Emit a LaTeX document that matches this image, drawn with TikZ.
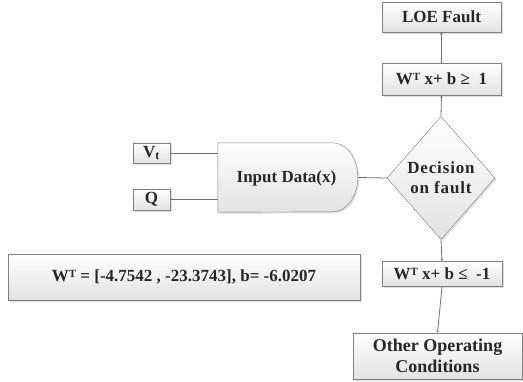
\documentclass[tikz,border=0pt]{standalone}
\usepackage{fontspec}
\setmainfont{Liberation Serif}
\usepackage{tikz}
\usetikzlibrary{positioning, calc, shapes.geometric, shadows, arrows.meta}
\definecolor{EdgeGray}{HTML}{808080}
\definecolor{LineGray}{HTML}{707070}
\definecolor{FillLow}{HTML}{E2E2E2}
\definecolor{TextDark}{HTML}{262626}
\newcommand{\supT}{\raisebox{0.55ex}{\fontsize{11}{11}\selectfont T}}

\tikzset{
  box/.style={draw=EdgeGray, top color=white, bottom color=FillLow, inner sep=0pt,
    text=TextDark, font=\bfseries\fontsize{17}{19}\selectfont, align=center,
    drop shadow={shadow xshift=1.5pt, shadow yshift=-1.5pt, opacity=0.25}},
  link/.style={draw=LineGray, line width=0.8pt},
  tip/.style={-{Stealth[length=2.5pt, width=2.5pt]}}
}

\begin{document}
\begin{tikzpicture}[x=1pt, y=-1pt]
          \useasboundingbox (0,0) rectangle (523,381);

          % Right column
          \node[box, minimum width=119pt, minimum height=30pt] (loe) at (441.5,17) {LOE Fault};
          \node[box, minimum width=119pt, minimum height=32pt] (wup) at (441.5,79) {W\supT\ x+ b ≥~ 1};
          \node[box, diamond, minimum width=108pt, minimum height=123pt,
            font=\bfseries\fontsize{17}{20}\selectfont\addfontfeatures{LetterSpace=5}] (dec) at (441,178) {Decision\\on fault};
          \node[box, minimum width=120pt, minimum height=25pt] (wlo) at (442,274) {W\supT\ x+ b ≤~ -1};
          \node[box, minimum width=169pt, minimum height=46pt, font=\bfseries\fontsize{18}{21}\selectfont] (other) at (437.5,356) {Other Operating\\Conditions};

          % Inputs
          \node[box, minimum width=37pt, minimum height=20pt] (vt) at (151.5,153) {V\textsubscript{t}};
          \node[box, minimum width=37pt, minimum height=21pt] (q) at (151.5,199.5) {Q};
          \node[minimum width=140pt, minimum height=69pt, inner sep=0pt] (input) at (288,177.5) {};
          \path[draw=EdgeGray, top color=white, bottom color=FillLow,
            drop shadow={shadow xshift=1.5pt, shadow yshift=-1.5pt, opacity=0.25}]
            (input.north west) -- ++(115,0) arc[start angle=90, end angle=-90, x radius=25pt, y radius=34.5pt]
            -- (input.south west) -- cycle;
          \node[text=TextDark, font=\bfseries\fontsize{17}{19}\selectfont] at (286.5,178) {Input Data(x)};

          % Weights
          \node[box, minimum width=352pt, minimum height=46pt] (wts) at (184,277) {W\supT\ = [-4.7542 , -23.3743], b= -6.0207};

          % Connectors
          \draw[link] (vt.east) -- (vt.east -| input.west);
          \draw[link] (q.east) -- (q.east -| input.west);
          \draw[link] (input.east) -- (dec.west);
          \draw[link, tip] (dec.north) -- (wup.south);
          \draw[link, tip] (wup.north) -- (loe.south);
          \draw[link, tip] (dec.south) -- (wlo.north);
          \draw[link, tip] (wlo.south) -- (other.north);
        \end{tikzpicture}
\end{document}
